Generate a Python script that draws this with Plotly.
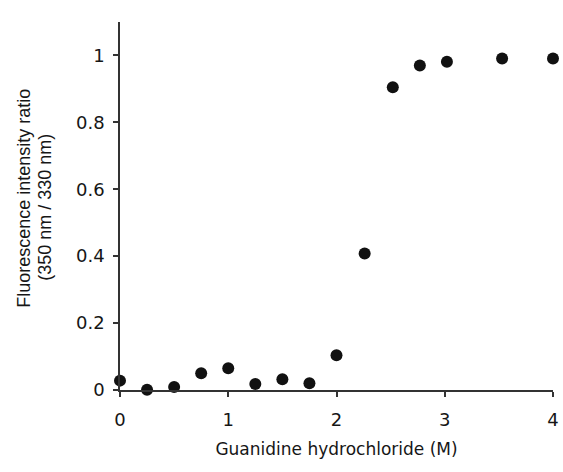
import plotly.graph_objects as go

# Data
gdn_conc = [0, 0.25, 0.5, 0.75, 1.0, 1.25, 1.5, 1.75, 2.0, 2.26, 2.52, 2.77, 3.02, 3.53, 4.0]
fl_ratio = [0.028, 0.001, 0.009, 0.05, 0.065, 0.018, 0.032, 0.02, 0.104, 0.408, 0.905, 0.970, 0.981, 0.991, 0.991]

x_ticks = [0, 1, 2, 3, 4]
y_ticks = [0, 0.2, 0.4, 0.6, 0.8, 1]
y_tick_labels = ["0", "0.2", "0.4", "0.6", "0.8", "1"]

x_title = "Guanidine hydrochloride (M)"
y_title_lines = ["Fluorescence intensity ratio", "(350 nm / 330 nm)"]

axis_color = "#333333"
text_color = "#161616"

fig = go.Figure()
fig.add_trace(go.Scatter(
    x=gdn_conc, y=fl_ratio, mode="markers",
    marker=dict(size=12, color="#111111", line=dict(width=0)),
    cliponaxis=False, showlegend=False,
))

fig.update_layout(
    width=563, height=472,
    margin=dict(l=120, r=10, t=22, b=82),
    paper_bgcolor="white", plot_bgcolor="white",
    font=dict(family="DejaVu Sans", color=text_color),
)
fig.update_xaxes(
    range=[0, 4], tickvals=x_ticks, ticktext=[str(v) for v in x_ticks],
    showgrid=False, zeroline=False, showline=True, linecolor=axis_color, linewidth=1.5,
    ticks="outside", ticklen=5, tickwidth=1.5, tickcolor=axis_color,
    tickfont=dict(size=18, family="DejaVu Sans"), ticklabelstandoff=8,
    automargin=False,
    title=dict(text=x_title, font=dict(size=17, family="DejaVu Sans"), standoff=14),
)
fig.update_yaxes(
    range=[0, 1.1], tickvals=y_ticks, ticktext=y_tick_labels,
    showgrid=False, zeroline=False, showline=True, linecolor=axis_color, linewidth=1.5,
    ticks="outside", ticklen=5, tickwidth=1.5, tickcolor=axis_color,
    tickfont=dict(size=18, family="DejaVu Sans"), ticklabelstandoff=5,
    automargin=False,
)

# Two-line y-axis title placed as rotated text (tight line spacing as in the reference)
for txt, xpos, ypos in zip(y_title_lines, [-0.2205, -0.1725], [0.521, 0.496]):
    fig.add_annotation(
        text=txt, xref="paper", yref="paper", x=xpos, y=ypos,
        xanchor="center", yanchor="middle", textangle=-90, showarrow=False,
        font=dict(size=18, family="Liberation Sans", color=text_color),
    )

fig.write_html("out.html")
